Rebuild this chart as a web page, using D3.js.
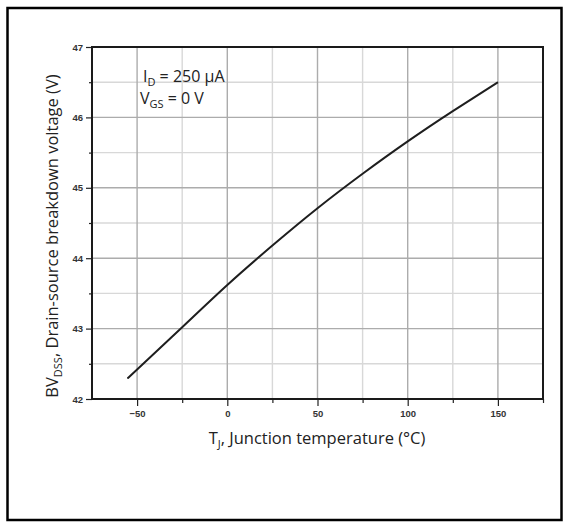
<!DOCTYPE html>
<html>
<head>
<meta charset="utf-8">
<script src="https://cdn.jsdelivr.net/npm/d3@7"></script>
<style>
  body { margin: 0; background: #fff; }
  svg { font-family: "Open Sans", sans-serif; }
  .tick text { fill: #333; font-size: 9.5px; font-weight: 600; }
</style>
</head>
<body>
<svg id="chart" width="569" height="527"></svg>
<script>
// data
const temps = [-55, -50, -25, 0, 25, 50, 75, 100, 125, 150];
const volts = [42.3, 42.42, 43.02, 43.62, 44.18, 44.71, 45.2, 45.66, 46.09, 46.5];
const xMajor = [-50, 0, 50, 100, 150];
const xMinor = [-25, 25, 75, 125, 175];
const yMajor = [42, 43, 44, 45, 46, 47];
const yMinor = [42.5, 43.5, 44.5, 45.5, 46.5];

const MARGIN = { top: 47, left: 92, right: 26, bottom: 128 };
const W = 569, H = 527;
const width = W - MARGIN.left - MARGIN.right;
const height = H - MARGIN.top - MARGIN.bottom;

const $svg = d3.select('#chart');

// outer frame
$svg.append('rect')
  .attr('x', 7.5).attr('y', 8)
  .attr('width', 554).attr('height', 512)
  .attr('fill', 'none')
  .attr('stroke', '#000')
  .attr('stroke-width', 2.5);

const scaleX = d3.scaleLinear().domain([-75, 175]).range([0, width]);
const scaleY = d3.scaleLinear().domain([42, 47]).range([height, 0]);

const $g = $svg.append('g')
  .attr('transform', `translate(${MARGIN.left},${MARGIN.top})`);

// grid: minor lighter, major darker
const $grid = $g.append('g').attr('class', 'grid');

function gridLines(values, cls, colour, vertical) {
  $grid.selectAll(`line.${cls}`)
    .data(values)
    .join('line')
    .attr('class', cls)
    .attr('x1', d => vertical ? scaleX(d) : 0)
    .attr('x2', d => vertical ? scaleX(d) : width)
    .attr('y1', d => vertical ? 0 : scaleY(d))
    .attr('y2', d => vertical ? height : scaleY(d))
    .style('stroke', colour)
    .style('stroke-width', 1.4);
}

gridLines(xMinor.filter(d => d < 175), 'vminor', '#d8d8d8', true);
gridLines(yMinor, 'hminor', '#d8d8d8', false);
gridLines(xMajor, 'vmajor', '#acacac', true);
gridLines(yMajor.filter(d => d > 42 && d < 47), 'hmajor', '#acacac', false);

// axes
const axisX = d3.axisBottom(scaleX).tickValues(xMajor).tickSize(7).tickPadding(4)
  .tickFormat(d3.format('d'));
const axisXMinor = d3.axisBottom(scaleX).tickValues(xMinor).tickSize(4).tickFormat('');
const axisY = d3.axisLeft(scaleY).tickValues(yMajor).tickSize(6).tickPadding(3)
  .tickFormat(d3.format('d'));
const axisYMinor = d3.axisLeft(scaleY).tickValues(yMinor).tickSize(3).tickFormat('');

$g.append('g').attr('class', 'axis').attr('transform', `translate(0,${height})`).call(axisXMinor);
$g.append('g').attr('class', 'axis').attr('transform', `translate(0,${height})`).call(axisX);
$g.append('g').attr('class', 'axis').call(axisYMinor);
$g.append('g').attr('class', 'axis').call(axisY);

$g.selectAll('.axis .domain').remove();
$g.selectAll('.axis .tick line').attr('stroke', '#222').attr('stroke-width', 1.2);

// plot box
$g.append('rect')
  .attr('x', 0).attr('y', 0)
  .attr('width', width).attr('height', height)
  .attr('fill', 'none')
  .attr('stroke', '#1a1a1a')
  .attr('stroke-width', 2);

// curve
const line = d3.line()
  .x((d, i) => scaleX(temps[i]))
  .y(d => scaleY(d))
  .curve(d3.curveNatural);

$g.append('path')
  .datum(volts)
  .attr('d', line)
  .attr('fill', 'none')
  .attr('stroke', '#1e1e1e')
  .attr('stroke-width', 2);

// annotation
const $note = $g.append('g').attr('fill', '#222').style('font-size', '16px');
const t1 = $note.append('text').attr('x', 143 - MARGIN.left).attr('y', 81.5 - MARGIN.top);
t1.append('tspan').text('I');
t1.append('tspan').text('D').attr('dy', 4).style('font-size', '11px');
t1.append('tspan').text(' = 250 μA').attr('dy', -4);
const t2 = $note.append('text').attr('x', 140 - MARGIN.left).attr('y', 103.5 - MARGIN.top);
t2.append('tspan').text('V');
t2.append('tspan').text('GS').attr('dy', 4).style('font-size', '11px');
t2.append('tspan').text(' = 0 V').attr('dy', -4);

// axis titles
const xt = $svg.append('text')
  .attr('x', 317).attr('y', 443.5)
  .attr('text-anchor', 'middle')
  .attr('fill', '#222')
  .style('font-size', '16.5px');
xt.append('tspan').text('T');
xt.append('tspan').text('J').attr('dy', 4).style('font-size', '11px');
xt.append('tspan').text(', Junction temperature (°C)').attr('dy', -4);

const yt = $svg.append('text')
  .attr('transform', 'translate(58,236) rotate(-90)')
  .attr('text-anchor', 'middle')
  .attr('fill', '#222')
  .style('font-size', '16.5px');
yt.append('tspan').text('BV');
yt.append('tspan').text('DSS').attr('dy', 4).style('font-size', '11px');
yt.append('tspan').text(', Drain-source breakdown voltage (V)').attr('dy', -4);
</script>
</body>
</html>
